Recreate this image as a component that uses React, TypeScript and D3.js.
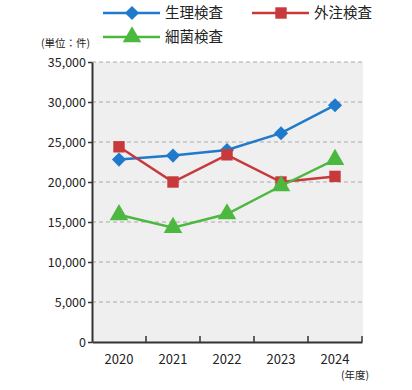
import { useEffect, useRef } from 'react';
import * as d3 from 'd3';

const years = ['2020', '2021', '2022', '2023', '2024'];
const physiology = [22800, 23300, 24000, 26100, 29600];
const outsourced = [24400, 20000, 23400, 20000, 20700];
const bacteria = [15900, 14300, 16000, 19500, 22800];
const yTicks = [0, 5000, 10000, 15000, 20000, 25000, 30000, 35000];

const FONT = '"Noto Sans CJK JP", "Noto Sans", sans-serif';

const series = [
  { name: '生理検査', values: physiology, color: '#1f7acc', symbol: d3.symbolSquare, size: 100, rotate: 45, lx: 103, ly: 13 },
  { name: '外注検査', values: outsourced, color: '#c8393c', symbol: d3.symbolSquare, size: 130, rotate: 0, lx: 252, ly: 13 },
  { name: '細菌検査', values: bacteria, color: '#4db840', symbol: d3.symbolTriangle, size: 150, rotate: 0, lx: 103, ly: 37 },
];

export default function App() {
  const svgRef = useRef<SVGSVGElement>(null);

  useEffect(() => {
    if (!svgRef.current) return;
    const svg = d3.select(svgRef.current);
    svg.selectAll('*').remove();

    const left = 92;
    const right = 362;
    const top = 62;
    const bottom = 342;

    const x = d3.scaleBand<string>().domain(years).range([left, right]);
    const y = d3.scaleLinear().domain([0, 35000]).range([bottom, top]);

    // Plot background
    svg.append('rect')
      .attr('x', left)
      .attr('y', top)
      .attr('width', right - left + 1)
      .attr('height', bottom - top)
      .attr('fill', '#efefef');

    // Gridlines
    svg.append('g')
      .selectAll('line')
      .data(yTicks.filter((t) => t > 0))
      .join('line')
      .attr('x1', left)
      .attr('x2', right + 1)
      .attr('y1', (d) => y(d))
      .attr('y2', (d) => y(d))
      .attr('stroke', '#aaaaaa')
      .attr('stroke-width', 1)
      .attr('stroke-dasharray', '4,3');

    // Y axis
    const yAxis = svg.append('g')
      .attr('transform', `translate(${left},0)`)
      .call(
        d3.axisLeft(y)
          .tickValues(yTicks)
          .tickSize(4)
          .tickSizeOuter(0)
          .tickFormat((d) => d3.format(',')(d as number))
      );
    yAxis.select('.domain').attr('stroke', '#333').attr('stroke-width', 2);
    yAxis.selectAll('line').attr('stroke', '#333').attr('stroke-width', 1.5);
    yAxis.selectAll('text')
      .attr('font-family', FONT)
      .attr('font-size', 12.5)
      .attr('fill', '#222')
      .attr('x', -6);

    // X axis
    const xAxis = svg.append('g')
      .attr('transform', `translate(0,${bottom})`)
      .call(d3.axisBottom(x).tickSize(0).tickSizeOuter(0));
    xAxis.select('.domain').attr('stroke', '#333').attr('stroke-width', 2);
    xAxis.selectAll('text')
      .attr('font-family', FONT)
      .attr('font-size', 13)
      .attr('fill', '#222')
      .attr('dy', 0)
      .attr('y', 22);
    svg.append('g')
      .selectAll('line')
      .data(years.slice(1).concat(['end']))
      .join('line')
      .attr('x1', (d) => (d === 'end' ? right : (x(d) as number)))
      .attr('x2', (d) => (d === 'end' ? right : (x(d) as number)))
      .attr('y1', bottom)
      .attr('y2', bottom - 6)
      .attr('stroke', '#333')
      .attr('stroke-width', 1.5);

    // Lines and markers
    const cx = (d: string) => (x(d) as number) + x.bandwidth() / 2;
    series.forEach((s) => {
      const marker = d3.symbol().type(s.symbol).size(s.size)() as string;
      const line = d3.line<number>()
        .x((_, i) => cx(years[i]))
        .y((v) => y(v));
      svg.append('path')
        .attr('d', line(s.values) as string)
        .attr('fill', 'none')
        .attr('stroke', s.color)
        .attr('stroke-width', 2.5);
      svg.append('g')
        .selectAll('path')
        .data(s.values)
        .join('path')
        .attr('transform', (v, i) => `translate(${cx(years[i])},${y(v)}) rotate(${s.rotate})`)
        .attr('d', marker)
        .attr('fill', s.color);

      // Legend
      const lg = svg.append('g');
      lg.append('line')
        .attr('x1', s.lx)
        .attr('x2', s.lx + 57)
        .attr('y1', s.ly)
        .attr('y2', s.ly)
        .attr('stroke', s.color)
        .attr('stroke-width', 2.5);
      lg.append('path')
        .attr('transform', `translate(${s.lx + 29},${s.ly}) rotate(${s.rotate})`)
        .attr('d', marker)
        .attr('fill', s.color);
      lg.append('text')
        .attr('x', s.lx + 62)
        .attr('y', s.ly)
        .attr('dy', '0.36em')
        .attr('font-family', FONT)
        .attr('font-size', 14.5)
        .attr('fill', '#222')
        .text(s.name);
    });

    svg.append('text')
      .attr('x', 90)
      .attr('y', 47)
      .attr('text-anchor', 'end')
      .attr('font-family', FONT)
      .attr('font-size', 10.5)
      .attr('fill', '#222')
      .text('(単位：件)');

    svg.append('text')
      .attr('x', 369)
      .attr('y', 379)
      .attr('text-anchor', 'end')
      .attr('font-family', FONT)
      .attr('font-size', 10.5)
      .attr('fill', '#222')
      .text('(年度)');
  }, []);

  return (
    <svg
      ref={svgRef}
      width={412}
      height={390}
      style={{ position: 'absolute', left: 0, top: 0, background: '#fff' }}
    />
  );
}
